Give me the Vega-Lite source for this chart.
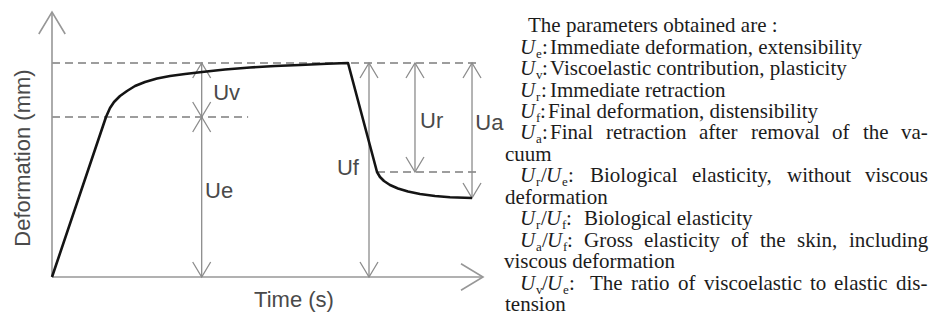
{
  "$schema": "https://vega.github.io/schema/vega-lite/v6.json",
  "width": 930,
  "height": 321,
  "autosize": {"type": "fit", "contains": "padding"},
  "padding": 0,
  "background": "white",
  "config": {"view": {"stroke": null}},
  "datasets": {
    "curve": [
      {"t": 0, "d": 0},
      {"t": 12.53, "d": 60.38},
      {"t": 13.46, "d": 63.77},
      {"t": 14.39, "d": 66.04},
      {"t": 15.78, "d": 68.3},
      {"t": 17.4, "d": 70.19},
      {"t": 19.26, "d": 72.08},
      {"t": 21.58, "d": 73.58},
      {"t": 24.36, "d": 74.91},
      {"t": 27.38, "d": 75.85},
      {"t": 30.86, "d": 76.6},
      {"t": 34.8, "d": 77.36},
      {"t": 40.14, "d": 78.3},
      {"t": 45.94, "d": 79.06},
      {"t": 51.74, "d": 79.62},
      {"t": 57.54, "d": 80.0},
      {"t": 63.81, "d": 80.45},
      {"t": 68.68, "d": 80.75},
      {"t": 75.41, "d": 39.62},
      {"t": 76.1, "d": 37.74},
      {"t": 77.03, "d": 36.23},
      {"t": 78.42, "d": 34.72},
      {"t": 80.28, "d": 33.4},
      {"t": 82.6, "d": 32.26},
      {"t": 85.38, "d": 31.32},
      {"t": 88.86, "d": 30.57},
      {"t": 92.34, "d": 30.11},
      {"t": 97.45, "d": 29.81}
    ],
    "arrows": [
      {"param": "Uv", "t": 34.73, "lo": 60.38, "hi": 80.75, "labelT": 37.4, "labelD": 69.4},
      {"param": "Ue", "t": 34.73, "lo": 0, "hi": 60.38, "labelT": 35.5, "labelD": 32.5},
      {"param": "Uf", "t": 73.55, "lo": 0, "hi": 80.75, "labelT": 66.1, "labelD": 41.1},
      {"param": "Ur", "t": 84.22, "lo": 39.62, "hi": 80.75, "labelT": 85.4, "labelD": 58.9},
      {"param": "Ua", "t": 97.45, "lo": 29.81, "hi": 80.75, "labelT": 98.2, "labelD": 58.1}
    ],
    "guides": [
      {"level": "maximum", "d": 80.75, "t": 0, "t2": 99.3},
      {"level": "elastic", "d": 60.38, "t": 0, "t2": 45.5},
      {"level": "retraction", "d": 39.62, "t": 75.41, "t2": 99.3}
    ],
    "axes": [
      {"axis": "Time (s)", "t0": 0, "d0": 0, "t1": 100, "d1": 0, "labelT": 56.15, "labelD": -8.68},
      {"axis": "Deformation (mm)", "t0": 0, "d0": 0, "t1": 0, "d1": 100, "labelT": -6.73, "labelD": 44.9}
    ],
    "notes": [
      {"line": 1, "col": 22, "kind": "word", "text": "The parameters obtained are :"},
      {"line": 2, "col": 14, "kind": "sym", "text": "U"},
      {"line": 2, "col": 30, "kind": "sub", "text": "e"},
      {"line": 2, "col": 36, "kind": "word", "text": ":"},
      {"line": 2, "col": 44, "kind": "word", "text": "Immediate deformation, extensibility"},
      {"line": 3, "col": 14, "kind": "sym", "text": "U"},
      {"line": 3, "col": 30, "kind": "sub", "text": "v"},
      {"line": 3, "col": 36, "kind": "word", "text": ":"},
      {"line": 3, "col": 44, "kind": "word", "text": "Viscoelastic contribution, plasticity"},
      {"line": 4, "col": 14, "kind": "sym", "text": "U"},
      {"line": 4, "col": 30, "kind": "sub", "text": "r"},
      {"line": 4, "col": 35, "kind": "word", "text": ":"},
      {"line": 4, "col": 44, "kind": "word", "text": "Immediate retraction"},
      {"line": 5, "col": 14, "kind": "sym", "text": "U"},
      {"line": 5, "col": 30, "kind": "sub", "text": "f"},
      {"line": 5, "col": 34, "kind": "word", "text": ":"},
      {"line": 5, "col": 42, "kind": "word", "text": "Final deformation, distensibility"},
      {"line": 6, "col": 14, "kind": "sym", "text": "U"},
      {"line": 6, "col": 30, "kind": "sub", "text": "a"},
      {"line": 6, "col": 36, "kind": "word", "text": ":"},
      {"line": 6, "col": 44, "kind": "word", "text": "Final"},
      {"line": 6, "col": 100, "kind": "word", "text": "retraction"},
      {"line": 6, "col": 193, "kind": "word", "text": "after"},
      {"line": 6, "col": 245, "kind": "word", "text": "removal"},
      {"line": 6, "col": 326, "kind": "word", "text": "of"},
      {"line": 6, "col": 357, "kind": "word", "text": "the"},
      {"line": 6, "col": 395, "kind": "word", "text": "va-"},
      {"line": 7, "col": -1, "kind": "word", "text": "cuum"},
      {"line": 8, "col": 14, "kind": "sym", "text": "U"},
      {"line": 8, "col": 30, "kind": "sub", "text": "r"},
      {"line": 8, "col": 35, "kind": "word", "text": "/"},
      {"line": 8, "col": 40, "kind": "sym", "text": "U"},
      {"line": 8, "col": 56, "kind": "sub", "text": "e"},
      {"line": 8, "col": 62, "kind": "word", "text": ":"},
      {"line": 8, "col": 84, "kind": "word", "text": "Biological"},
      {"line": 8, "col": 186, "kind": "word", "text": "elasticity,"},
      {"line": 8, "col": 281, "kind": "word", "text": "without"},
      {"line": 8, "col": 359, "kind": "word", "text": "viscous"},
      {"line": 9, "col": -1, "kind": "word", "text": "deformation"},
      {"line": 10, "col": 14, "kind": "sym", "text": "U"},
      {"line": 10, "col": 30, "kind": "sub", "text": "r"},
      {"line": 10, "col": 35, "kind": "word", "text": "/"},
      {"line": 10, "col": 40, "kind": "sym", "text": "U"},
      {"line": 10, "col": 56, "kind": "sub", "text": "f"},
      {"line": 10, "col": 60, "kind": "word", "text": ":"},
      {"line": 10, "col": 78, "kind": "word", "text": "Biological elasticity"},
      {"line": 11, "col": 14, "kind": "sym", "text": "U"},
      {"line": 11, "col": 30, "kind": "sub", "text": "a"},
      {"line": 11, "col": 36, "kind": "word", "text": "/"},
      {"line": 11, "col": 41, "kind": "sym", "text": "U"},
      {"line": 11, "col": 57, "kind": "sub", "text": "f"},
      {"line": 11, "col": 61, "kind": "word", "text": ":"},
      {"line": 11, "col": 78, "kind": "word", "text": "Gross"},
      {"line": 11, "col": 138, "kind": "word", "text": "elasticity"},
      {"line": 11, "col": 225, "kind": "word", "text": "of"},
      {"line": 11, "col": 254, "kind": "word", "text": "the"},
      {"line": 11, "col": 291, "kind": "word", "text": "skin,"},
      {"line": 11, "col": 343, "kind": "word", "text": "including"},
      {"line": 12, "col": -2, "kind": "word", "text": "viscous deformation"},
      {"line": 13, "col": 14, "kind": "sym", "text": "U"},
      {"line": 13, "col": 30, "kind": "sub", "text": "v"},
      {"line": 13, "col": 36, "kind": "word", "text": "/"},
      {"line": 13, "col": 41, "kind": "sym", "text": "U"},
      {"line": 13, "col": 57, "kind": "sub", "text": "e"},
      {"line": 13, "col": 63, "kind": "word", "text": ":"},
      {"line": 13, "col": 84, "kind": "word", "text": "The"},
      {"line": 13, "col": 125, "kind": "word", "text": "ratio"},
      {"line": 13, "col": 172, "kind": "word", "text": "of"},
      {"line": 13, "col": 198, "kind": "word", "text": "viscoelastic"},
      {"line": 13, "col": 304, "kind": "word", "text": "to"},
      {"line": 13, "col": 328, "kind": "word", "text": "elastic"},
      {"line": 13, "col": 390, "kind": "word", "text": "dis-"},
      {"line": 14, "col": -1, "kind": "word", "text": "tension"}
    ]
  },
  "layer": [
    {
      "resolve": {"scale": {"angle": "independent"}},
      "layer": [
        {
          "data": {"name": "guides"},
          "mark": {"type": "rule", "color": "#7d7d7d", "strokeWidth": 1.5, "strokeDash": [8, 5]},
          "encoding": {
            "x": {"field": "t", "type": "quantitative", "scale": {"domain": [-12.065, 203.712], "nice": false, "zero": false}, "axis": null},
            "x2": {"field": "t2"},
            "y": {"field": "d", "type": "quantitative", "scale": {"domain": [-16.604, 104.528], "nice": false, "zero": false}, "axis": null}
          }
        },
        {
          "data": {"name": "axes"},
          "mark": {"type": "rule", "color": "#979797", "strokeWidth": 1.6},
          "encoding": {
            "x": {"field": "t0", "type": "quantitative", "scale": {"domain": [-12.065, 203.712], "nice": false, "zero": false}, "axis": null},
            "x2": {"field": "t1"},
            "y": {"field": "d0", "type": "quantitative", "scale": {"domain": [-16.604, 104.528], "nice": false, "zero": false}, "axis": null},
            "y2": {"field": "d1"}
          }
        },
        {
          "data": {"name": "axes"},
          "mark": {"type": "point", "shape": "M-0.6,1L0,0L0.6,1", "filled": false, "size": 1936, "color": "#979797", "strokeWidth": 1.6, "opacity": 1},
          "encoding": {
            "x": {"field": "t1", "type": "quantitative", "scale": {"domain": [-12.065, 203.712], "nice": false, "zero": false}, "axis": null},
            "y": {"field": "d1", "type": "quantitative", "scale": {"domain": [-16.604, 104.528], "nice": false, "zero": false}, "axis": null},
            "angle": {"field": "axis", "type": "nominal", "scale": {"domain": ["Time (s)", "Deformation (mm)"], "range": [90, 0]}, "legend": null}
          }
        },
        {
          "data": {"name": "axes"},
          "mark": {"type": "text", "font": "Liberation Sans", "fontSize": 22, "color": "#4a4a4a", "align": "center", "baseline": "middle"},
          "encoding": {
            "x": {"field": "labelT", "type": "quantitative", "scale": {"domain": [-12.065, 203.712], "nice": false, "zero": false}, "axis": null},
            "y": {"field": "labelD", "type": "quantitative", "scale": {"domain": [-16.604, 104.528], "nice": false, "zero": false}, "axis": null},
            "text": {"field": "axis"},
            "angle": {"field": "axis", "type": "nominal", "scale": {"domain": ["Time (s)", "Deformation (mm)"], "range": [0, 270]}, "legend": null}
          }
        },
        {
          "data": {"name": "arrows"},
          "mark": {"type": "rule", "color": "#8c8c8c", "strokeWidth": 1.3},
          "encoding": {
            "x": {"field": "t", "type": "quantitative", "scale": {"domain": [-12.065, 203.712], "nice": false, "zero": false}, "axis": null},
            "y": {"field": "lo", "type": "quantitative", "scale": {"domain": [-16.604, 104.528], "nice": false, "zero": false}, "axis": null},
            "y2": {"field": "hi"}
          }
        },
        {
          "data": {"name": "arrows"},
          "transform": [{"fold": ["lo", "hi"], "as": ["end", "d"]}],
          "mark": {"type": "point", "shape": "M-0.6,1L0,0L0.6,1", "filled": false, "size": 900, "color": "#8c8c8c", "strokeWidth": 1.3, "opacity": 1},
          "encoding": {
            "x": {"field": "t", "type": "quantitative", "scale": {"domain": [-12.065, 203.712], "nice": false, "zero": false}, "axis": null},
            "y": {"field": "d", "type": "quantitative", "scale": {"domain": [-16.604, 104.528], "nice": false, "zero": false}, "axis": null},
            "angle": {"field": "end", "type": "nominal", "scale": {"domain": ["hi", "lo"], "range": [0, 180]}, "legend": null}
          }
        },
        {
          "data": {"name": "arrows"},
          "mark": {"type": "text", "font": "Liberation Sans", "fontSize": 22, "color": "#4a4a4a", "align": "left", "baseline": "middle"},
          "encoding": {
            "x": {"field": "labelT", "type": "quantitative", "scale": {"domain": [-12.065, 203.712], "nice": false, "zero": false}, "axis": null},
            "y": {"field": "labelD", "type": "quantitative", "scale": {"domain": [-16.604, 104.528], "nice": false, "zero": false}, "axis": null},
            "text": {"field": "param"}
          }
        },
        {
          "data": {"name": "curve"},
          "mark": {"type": "line", "color": "#141414", "strokeWidth": 2.6, "strokeJoin": "round"},
          "encoding": {
            "x": {"field": "t", "type": "quantitative", "scale": {"domain": [-12.065, 203.712], "nice": false, "zero": false}, "axis": null},
            "y": {"field": "d", "type": "quantitative", "scale": {"domain": [-16.604, 104.528], "nice": false, "zero": false}, "axis": null}
          }
        }
      ]
    },
    {
      "data": {"name": "notes"},
      "layer": [
        {
          "transform": [{"filter": "datum.kind === 'word'"}],
          "mark": {"type": "text", "font": "Liberation Serif", "fontSize": 21, "color": "#1c1c1c", "align": "left", "baseline": "alphabetic"},
          "encoding": {
            "x": {"field": "col", "type": "quantitative", "scale": {"domain": [-506, 424], "nice": false, "zero": false}, "axis": null},
            "y": {"field": "line", "type": "quantitative", "scale": {"domain": [-0.4884, 14.4419], "reverse": true, "nice": false, "zero": false}, "axis": null},
            "text": {"field": "text"}
          }
        },
        {
          "transform": [{"filter": "datum.kind === 'sym'"}],
          "mark": {"type": "text", "font": "Liberation Serif", "fontStyle": "italic", "fontSize": 21, "color": "#1c1c1c", "align": "left", "baseline": "alphabetic"},
          "encoding": {
            "x": {"field": "col", "type": "quantitative", "scale": {"domain": [-506, 424], "nice": false, "zero": false}, "axis": null},
            "y": {"field": "line", "type": "quantitative", "scale": {"domain": [-0.4884, 14.4419], "reverse": true, "nice": false, "zero": false}, "axis": null},
            "text": {"field": "text"}
          }
        },
        {
          "transform": [{"filter": "datum.kind === 'sub'"}],
          "mark": {"type": "text", "font": "Liberation Serif", "fontSize": 13, "dy": 4, "color": "#1c1c1c", "align": "left", "baseline": "alphabetic"},
          "encoding": {
            "x": {"field": "col", "type": "quantitative", "scale": {"domain": [-506, 424], "nice": false, "zero": false}, "axis": null},
            "y": {"field": "line", "type": "quantitative", "scale": {"domain": [-0.4884, 14.4419], "reverse": true, "nice": false, "zero": false}, "axis": null},
            "text": {"field": "text"}
          }
        }
      ]
    }
  ],
  "resolve": {"scale": {"x": "independent", "y": "independent"}}
}
